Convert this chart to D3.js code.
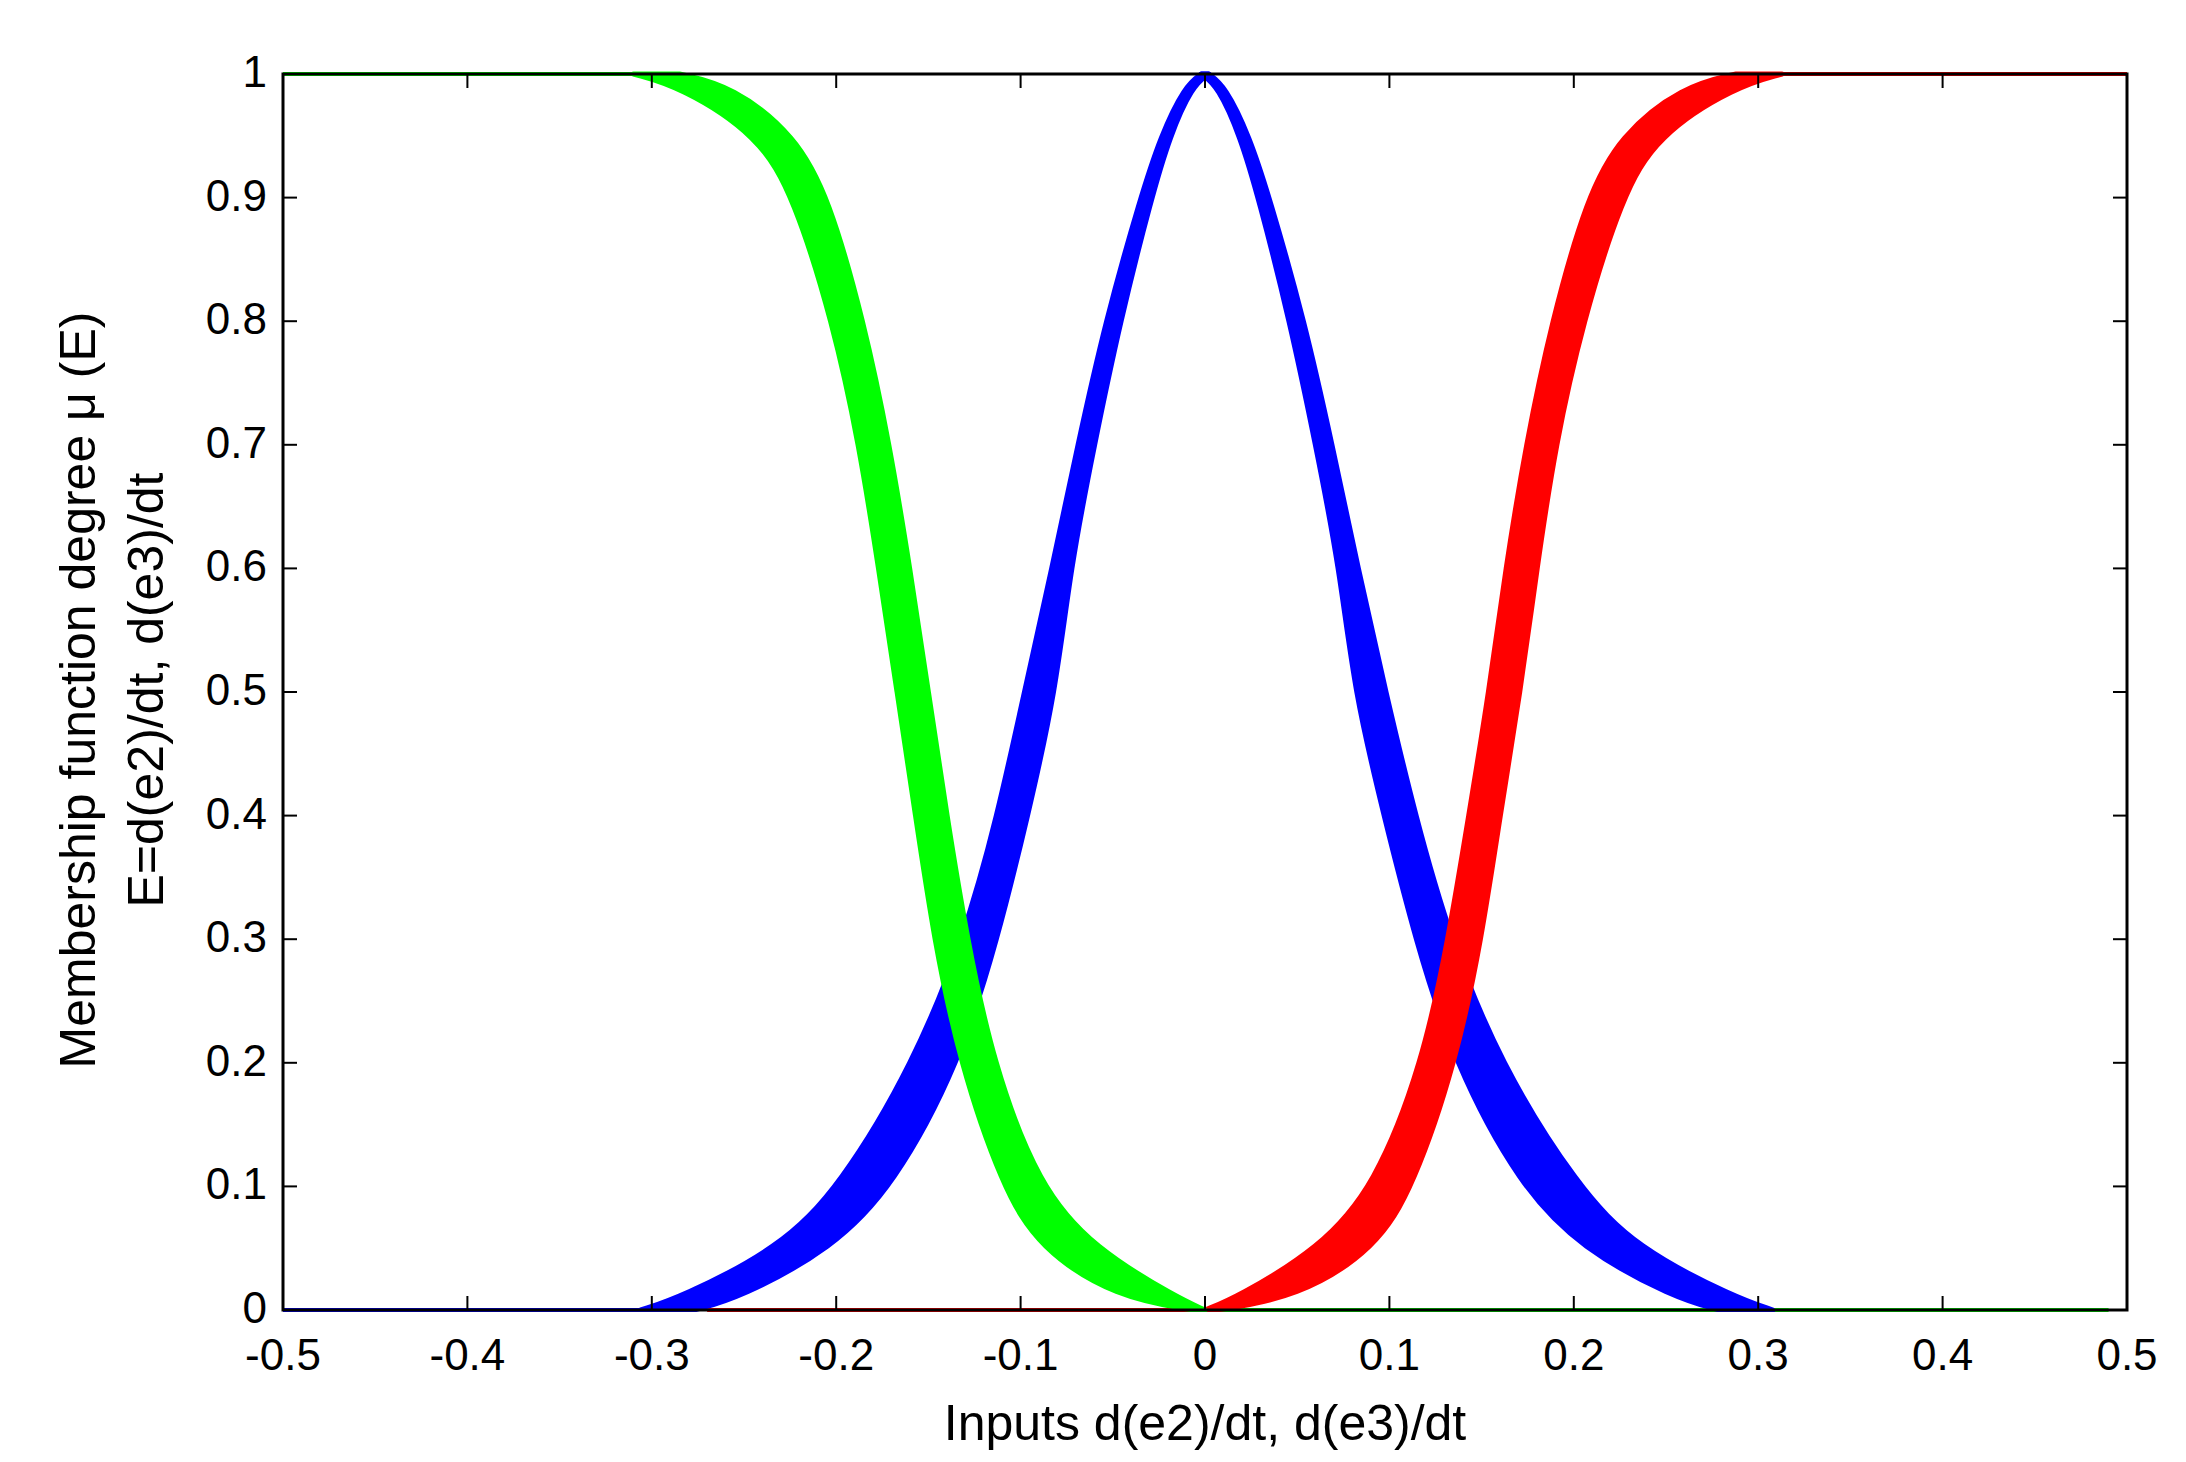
<!DOCTYPE html>
<html><head><meta charset="utf-8">
<script src="https://cdn.jsdelivr.net/npm/d3@7"></script>
<style>body{margin:0;background:#fff}</style></head>
<body><svg id="c" width="2186" height="1462"></svg>
<script>
const xTicks=[-0.5,-0.4,-0.3,-0.2,-0.1,0,0.1,0.2,0.3,0.4,0.5];
const yTicks=[0,0.1,0.2,0.3,0.4,0.5,0.6,0.7,0.8,0.9,1];
// band edges: membership level, left edge x, right edge x
const levels=[0,0.01,0.05,0.1,0.2,0.3,0.4,0.5,0.6,0.7,0.8,0.9,0.95,0.99,1];
const greenL=[-0.006,-0.048,-0.090,-0.110,-0.133,-0.147,-0.157,-0.167,-0.177,-0.1875,-0.202,-0.223,-0.242,-0.285,-0.31];
const greenR=[0.000,-0.015,-0.060,-0.090,-0.115,-0.129,-0.140,-0.150,-0.160,-0.171,-0.185,-0.204,-0.222,-0.256,-0.285];
const redL=[0.000,0.017,0.062,0.092,0.118,0.132,0.143,0.154,0.163,0.174,0.188,0.207,0.225,0.259,0.288];
const redR=[0.006,0.050,0.093,0.113,0.136,0.150,0.160,0.171,0.180,0.190,0.205,0.226,0.245,0.288,0.313];
const blueLeftL=[-0.306,-0.285,-0.231,-0.198,-0.158,-0.131,-0.1125,-0.098,-0.083,-0.069,-0.054,-0.035,-0.024,-0.011,-0.002];
const blueLeftR=[-0.277,-0.252,-0.202,-0.169,-0.133,-0.1125,-0.096,-0.081,-0.073,-0.060,-0.046,-0.029,-0.019,-0.007,0.002];
const blueRightL=[0.279,0.254,0.204,0.171,0.135,0.114,0.097,0.081,0.073,0.060,0.046,0.029,0.019,0.007,-0.002];
const blueRightR=[0.308,0.288,0.234,0.202,0.160,0.133,0.114,0.098,0.083,0.069,0.054,0.035,0.024,0.011,0.002];
// flat segments at zero/one level: [x0,x1,y,color]
const flats=[[-0.5,-0.29,0,"#0000ff"],[-0.27,0,0,"#ff0000"],[0.29,0.49,0,"#00ff00"],[0,0.3,0,"#00ff00"],[-0.5,-0.3,1,"#00ff00"],[0.3,0.5,1,"#ff0000"]];

const L=283,R=2127,T=74,B=1310;
const svg=d3.select("#c");
const x=d3.scaleLinear().domain([-0.5,0.5]).range([L,R]);
const y=d3.scaleLinear().domain([0,1]).range([B,T]);
const font="Liberation Sans, Arial, sans-serif";
svg.append("clipPath").attr("id","cp").append("rect").attr("x",L).attr("y",T-4).attr("width",R-L).attr("height",B-T+6);
const g=svg.append("g").attr("clip-path","url(#cp)");
flats.forEach(f=>g.append("line").attr("x1",x(f[0])).attr("x2",x(f[1])).attr("y1",y(f[2])).attr("y2",y(f[2])).attr("stroke",f[3]).attr("stroke-width",4));
const area=d3.area().curve(d3.curveBasis).y((d,i)=>y(levels[i])).x0(d=>x(d[0])).x1(d=>x(d[1]));
function band(a,b,col){
  g.append("path").datum(a.map((v,i)=>[v,b[i]])).attr("d",area).attr("fill",col).attr("stroke",col).attr("stroke-width",5).attr("stroke-linejoin","round");
}
band(blueLeftL,blueLeftR,"#0000ff");
band(blueRightL,blueRightR,"#0000ff");
band(redL,redR,"#ff0000");
band(greenL,greenR,"#00ff00");

svg.append("rect").attr("x",L).attr("y",T).attr("width",R-L).attr("height",B-T).attr("fill","none").attr("stroke","#000").attr("stroke-width",3);
const tl=14;
xTicks.forEach(t=>{
  svg.append("line").attr("x1",x(t)).attr("x2",x(t)).attr("y1",B).attr("y2",B-tl).attr("stroke","#000").attr("stroke-width",2);
  svg.append("line").attr("x1",x(t)).attr("x2",x(t)).attr("y1",T).attr("y2",T+tl).attr("stroke","#000").attr("stroke-width",2);
  svg.append("text").attr("x",x(t)).attr("y",B+60).attr("text-anchor","middle").attr("font-family",font).attr("font-size",44).text(String(t));
});
yTicks.forEach(t=>{
  svg.append("line").attr("x1",L).attr("x2",L+tl).attr("y1",y(t)).attr("y2",y(t)).attr("stroke","#000").attr("stroke-width",2);
  svg.append("line").attr("x1",R).attr("x2",R-tl).attr("y1",y(t)).attr("y2",y(t)).attr("stroke","#000").attr("stroke-width",2);
  svg.append("text").attr("x",L-16).attr("y",y(t)+13).attr("text-anchor","end").attr("font-family",font).attr("font-size",44).text(String(t));
});
svg.append("text").attr("x",(L+R)/2).attr("y",1440).attr("text-anchor","middle").attr("font-family",font).attr("font-size",50).text("Inputs d(e2)/dt, d(e3)/dt");
svg.append("text").attr("transform","translate(95,690) rotate(-90)").attr("text-anchor","middle").attr("font-family",font).attr("font-size",50).text("Membership function degree μ (E)");
svg.append("text").attr("transform","translate(163,690) rotate(-90)").attr("text-anchor","middle").attr("font-family",font).attr("font-size",50).text("E=d(e2)/dt, d(e3)/dt");
</script></body></html>
